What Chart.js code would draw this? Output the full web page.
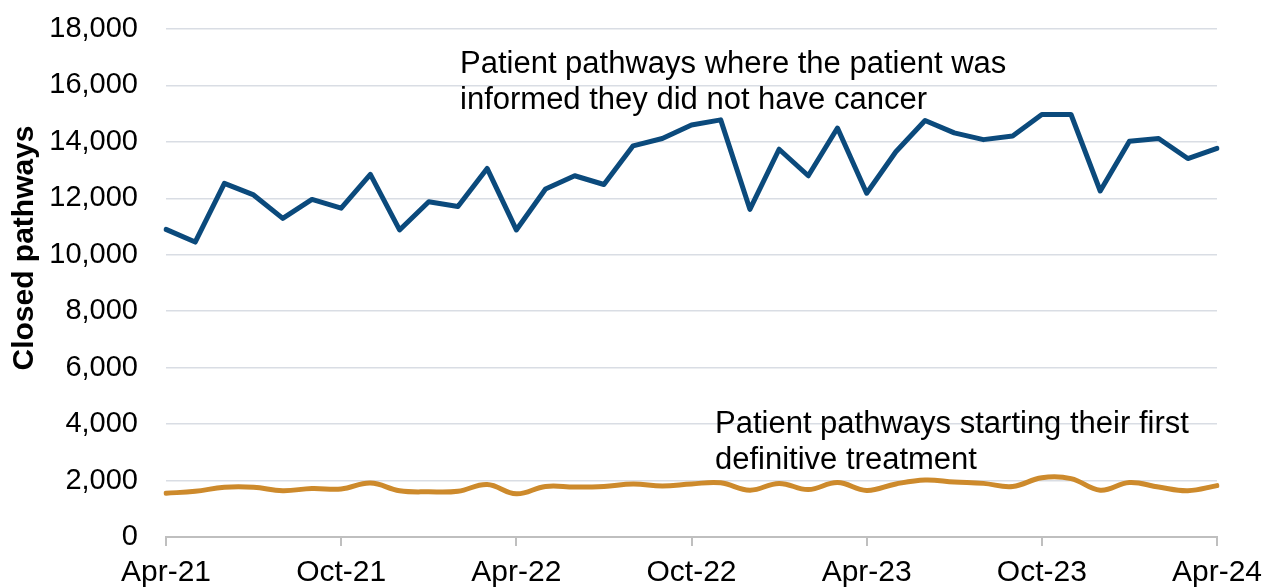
<!DOCTYPE html>
<html>
<head>
<meta charset="utf-8">
<script src="https://cdn.jsdelivr.net/npm/chart.js@4/dist/chart.umd.min.js"></script>
<style>
html,body{margin:0;padding:0;background:#fff;}
#wrap{width:1264px;height:588px;position:relative;}
</style>
</head>
<body>
<div id="wrap"><canvas id="c" width="1264" height="588"></canvas></div>
<script>
const months = ["Apr-21","May-21","Jun-21","Jul-21","Aug-21","Sep-21","Oct-21","Nov-21","Dec-21",
"Jan-22","Feb-22","Mar-22","Apr-22","May-22","Jun-22","Jul-22","Aug-22","Sep-22","Oct-22","Nov-22","Dec-22",
"Jan-23","Feb-23","Mar-23","Apr-23","May-23","Jun-23","Jul-23","Aug-23","Sep-23","Oct-23","Nov-23","Dec-23",
"Jan-24","Feb-24","Mar-24","Apr-24"];
const notCancer = [10900,10450,12530,12120,11290,11960,11650,12850,10880,
11880,11710,13060,10880,12330,12800,12490,13860,14120,14600,14780,11610,
13740,12800,14490,12180,13650,14760,14320,14080,14210,14970,14970,12260,
14020,14120,13410,13770];
const firstTreatment = [1550,1620,1760,1760,1640,1720,1700,1910,1640,
1600,1620,1860,1530,1790,1770,1790,1880,1810,1880,1920,1660,
1900,1680,1930,1650,1880,2020,1950,1900,1790,2100,2070,1660,
1930,1770,1640,1820];
const yTicks = [0,2000,4000,6000,8000,10000,12000,14000,16000,18000];
const tickEvery = 6;
const annotations = [
  {lines:["Patient pathways where the patient was","informed they did not have cancer"], x:460, y:73},
  {lines:["Patient pathways starting their first","definitive treatment"], x:715, y:433}
];
const yTitle = "Closed pathways";

const FONT = "'Liberation Sans', Arial, sans-serif";

const textPlugin = {
  id:'texts',
  afterDraw(chart){
    const ctx = chart.ctx;
    ctx.save();
    ctx.fillStyle = '#000';
    ctx.font = "31px " + FONT;
    ctx.textAlign = 'left';
    ctx.textBaseline = 'alphabetic';
    annotations.forEach(a=>{
      a.lines.forEach((l,i)=>ctx.fillText(l, a.x, a.y + i*36));
    });
    ctx.translate(25, 248);
    ctx.rotate(-Math.PI/2);
    ctx.font = "bold 30px " + FONT;
    ctx.textAlign = 'center';
    ctx.textBaseline = 'middle';
    ctx.fillText(yTitle, 0, 0);
    ctx.restore();
  }
};

new Chart(document.getElementById('c'), {
  type:'line',
  data:{
    labels: months,
    datasets:[
      {data: notCancer, borderColor:'#0B4A7C', borderWidth:5, pointRadius:0, tension:0, borderJoinStyle:'round', borderCapStyle:'round'},
      {data: firstTreatment, borderColor:'#CD8A2C', borderWidth:5, pointRadius:0, tension:0.4, borderCapStyle:'round'}
    ]
  },
  options:{
    responsive:false,
    animation:false,
    layout:{padding:{top:29,right:47,bottom:0,left:0}},
    plugins:{legend:{display:false},tooltip:{enabled:false}},
    scales:{
      x:{
        type:'category',
        offset:false,
        grid:{
          drawOnChartArea:false, drawTicks:true, tickLength:9,
          color:(c)=> (c.index % tickEvery === 0) ? '#BFBFBF' : 'rgba(0,0,0,0)',
          lineWidth:2
        },
        border:{display:true, color:'#BFBFBF', width:2},
        ticks:{
          autoSkip:false, maxRotation:0, minRotation:0, padding:9,
          color:'#000', font:{family:FONT, size:30},
          callback:function(v,i){ return i % tickEvery === 0 ? months[i] : ''; }
        },
        afterFit(scale){ scale.height = 51; scale.paddingLeft = 0; scale.paddingRight = 0; scale.paddingTop = 0; scale.paddingBottom = 0; }
      },
      y:{
        min:0, max:18000,
        afterBuildTicks(scale){ scale.ticks = yTicks.map(v=>({value:v})); },
        grid:{color:'#D9DDE4', lineWidth:1.5, drawTicks:false},
        border:{display:false},
        ticks:{
          padding:28, color:'#000', font:{family:FONT, size:29},
          callback:(v)=> v.toLocaleString('en-GB')
        },
        afterFit(scale){ scale.width = 166; scale.paddingLeft = 0; scale.paddingRight = 0; scale.paddingTop = 0; scale.paddingBottom = 0; }
      }
    }
  },
  plugins:[textPlugin]
});
</script>
</body>
</html>
